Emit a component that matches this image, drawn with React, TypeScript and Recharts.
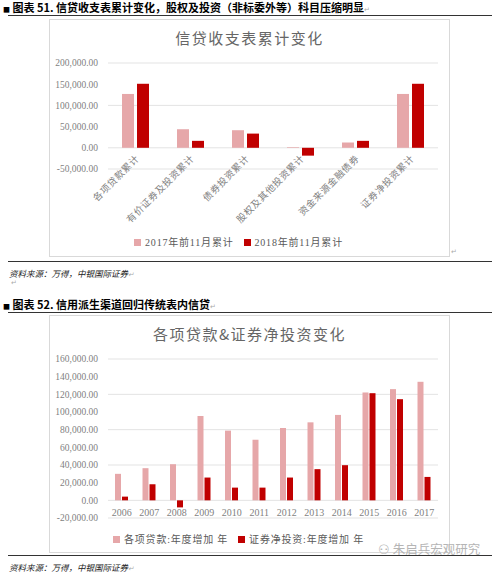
import React from "react";
import { BarChart, Bar, XAxis, YAxis, CartesianGrid, Legend } from "recharts";

// chart 51
const cumCategories = [
  "各项贷款累计",
  "有价证券及投资累计",
  "债券投资累计",
  "股权及其他投资累计",
  "资金来源金融债券",
  "证券净投资累计",
];
const cum2017 = [127000, 43800, 41500, 1500, 12500, 127000];
const cum2018 = [151000, 16400, 33500, -18500, 16400, 151000];
const cumTicks = [-50000, 0, 50000, 100000, 150000, 200000];

// chart 52
const years = ["2006", "2007", "2008", "2009", "2010", "2011", "2012", "2013", "2014", "2015", "2016", "2017"];
const loans = [30000, 36400, 40900, 95500, 78900, 68600, 81900, 88300, 96700, 122100, 125900, 134200];
const securities = [4200, 18200, -8000, 25800, 14400, 14400, 25800, 35300, 39800, 121300, 114500, 26500];
const yearTicks = [-20000, 0, 20000, 40000, 60000, 80000, 100000, 120000, 140000, 160000];

const cumData = cumCategories.map((name, i) => ({ name, a: cum2017[i], b: cum2018[i] }));
const yearData = years.map((name, i) => ({ name, a: loans[i], b: securities[i] }));

const PINK = "#E6A7A9";
const RED = "#C00000";
const GRAY = "#7f7f7f";
const CJK = '"Noto Sans CJK SC", sans-serif';
const SERIF = '"Liberation Serif", "Noto Sans CJK SC", serif';

const W = 401;
const H = 238;

const fmt = (v: number) =>
  v.toLocaleString("en-US", { minimumFractionDigits: 2, maximumFractionDigits: 2 });

// labels sit under the zero line, like Excel's "next to axis"
function RotTick(props: any) {
  const { x, y, payload, shift } = props;
  const ty = y - shift + 9;
  return (
    <text
      x={x + 2}
      y={ty}
      transform={`rotate(-45, ${x + 2}, ${ty})`}
      textAnchor="end"
      dy="0.35em"
      fontSize={9.5}
      letterSpacing={0.6}
      fill={GRAY}
      fontFamily={CJK}
    >
      {payload.value}
    </text>
  );
}

function YearTick(props: any) {
  const { x, y, payload, shift } = props;
  return (
    <text
      x={x}
      y={y - shift + 12}
      textAnchor="middle"
      dy="0.35em"
      fontSize={10}
      fill={GRAY}
      fontFamily={SERIF}
    >
      {payload.value}
    </text>
  );
}

const legendText = (value: string) => (
  <span style={{ color: "#595959", fontFamily: SERIF, fontSize: 10, letterSpacing: 0.8 }}>{value}</span>
);

function Header({ top, text }: { top: number; text: string }) {
  return (
    <>
      <div
        style={{
          position: "absolute",
          left: 3,
          top,
          fontFamily: CJK,
          fontWeight: 700,
          fontSize: 11,
          color: "#000",
          whiteSpace: "nowrap",
          lineHeight: "14px",
        }}
      >
        <span style={{ fontSize: 7, verticalAlign: "middle" }}>■</span> {text}
        <span style={{ color: "#aaa", fontSize: 7, fontWeight: 400 }}>↵</span>
      </div>
      <div style={{ position: "absolute", left: 8, top: top + 15, width: 484, height: 1, background: "#333" }} />
    </>
  );
}

function Source({ top }: { top: number }) {
  return (
    <>
      <div style={{ position: "absolute", left: 8, top: top - 6, width: 484, height: 1, background: "#333" }} />
      <div
        style={{
          position: "absolute",
          left: 9,
          top,
          fontFamily: CJK,
          fontStyle: "italic",
          fontSize: 8.5,
          color: "#222",
          whiteSpace: "nowrap",
          lineHeight: "12px",
        }}
      >
        资料来源：万得，中银国际证券<span style={{ color: "#aaa", fontSize: 7 }}>↵</span>
      </div>
    </>
  );
}

function Box({ top, title, children }: { top: number; title: string; children: React.ReactNode }) {
  return (
    <div style={{ position: "absolute", left: 49, top, width: W, height: H }}>
      <div
        style={{
          position: "absolute",
          left: 0,
          top: 0,
          width: W,
          height: H,
          border: "1px solid #d9d9d9",
          boxSizing: "border-box",
        }}
      />
      <div
        style={{
          position: "absolute",
          left: 0,
          width: W,
          top: 9,
          textAlign: "center",
          fontFamily: CJK,
          fontSize: 15,
          letterSpacing: 1.5,
          color: "#666",
          lineHeight: "20px",
        }}
      >
        {title}
      </div>
      <div style={{ position: "absolute", left: 0, top: 0 }}>{children}</div>
    </div>
  );
}

export default function App() {
  const m1 = { top: 44, right: 12, bottom: 5, left: 0 };
  const xh1 = 63;
  const plotH1 = H - m1.top - m1.bottom - 20 - xh1;
  const shift1 = (plotH1 * (0 - cumTicks[0])) / (cumTicks[cumTicks.length - 1] - cumTicks[0]);

  const m2 = { top: 44, right: 12, bottom: 4, left: 0 };
  const xh2 = 11;
  const plotH2 = H - m2.top - m2.bottom - 20 - xh2;
  const shift2 = (plotH2 * (0 - yearTicks[0])) / (yearTicks[yearTicks.length - 1] - yearTicks[0]);

  return (
    <div style={{ position: "absolute", left: 0, top: 0, width: 500, height: 572, background: "#fff", overflow: "hidden" }}>
      <Header top={0} text="图表 51. 信贷收支表累计变化，股权及投资（非标委外等）科目压缩明显" />

      <Box top={19} title="信贷收支表累计变化">
        <BarChart width={W} height={H} data={cumData} margin={m1} barGap={3}>
          <CartesianGrid vertical={false} stroke="#e3e3e3" />
          <XAxis
            dataKey="name"
            height={xh1}
            axisLine={false}
            tickLine={false}
            tickSize={0}
            tickMargin={0}
            interval={0}
            tick={(p: any) => <RotTick {...p} shift={shift1} />}
          />
          <YAxis
            width={59}
            domain={[cumTicks[0], cumTicks[cumTicks.length - 1]]}
            ticks={cumTicks}
            tickFormatter={fmt}
            axisLine={false}
            tickLine={false}
            tickSize={0}
            tickMargin={10}
            tick={{ fontSize: 9.5, fill: GRAY, fontFamily: SERIF }}
          />
          <Legend
            verticalAlign="bottom"
            height={20}
            iconType="square"
            iconSize={7}
            formatter={legendText}
          />
          <Bar dataKey="a" name="2017年前11月累计" fill={PINK} barSize={12} isAnimationActive={false} />
          <Bar dataKey="b" name="2018年前11月累计" fill={RED} barSize={12} isAnimationActive={false} />
        </BarChart>
      </Box>
      <div style={{ position: "absolute", left: 451, top: 248, color: "#aaa", fontSize: 7 }}>↵</div>

      <Source top={267} />
      <div style={{ position: "absolute", left: 11, top: 279, color: "#aaa", fontSize: 7 }}>↵</div>

      <Header top={297} text="图表 52. 信用派生渠道回归传统表内信贷" />

      <Box top={315} title="各项贷款&证券净投资变化">
        <BarChart width={W} height={H} data={yearData} margin={m2} barGap={1}>
          <CartesianGrid vertical={false} stroke="#e3e3e3" />
          <XAxis
            dataKey="name"
            height={xh2}
            axisLine={false}
            tickLine={false}
            tickSize={0}
            tickMargin={0}
            interval={0}
            tick={(p: any) => <YearTick {...p} shift={shift2} />}
          />
          <YAxis
            width={59}
            domain={[yearTicks[0], yearTicks[yearTicks.length - 1]]}
            ticks={yearTicks}
            tickFormatter={fmt}
            axisLine={false}
            tickLine={false}
            tickSize={0}
            tickMargin={10}
            tick={{ fontSize: 9.5, fill: GRAY, fontFamily: SERIF }}
          />
          <Legend
            verticalAlign="bottom"
            height={20}
            iconType="square"
            iconSize={7}
            formatter={legendText}
          />
          <Bar dataKey="a" name="各项贷款:年度增加 年" fill={PINK} barSize={6} isAnimationActive={false} />
          <Bar dataKey="b" name="证券净投资:年度增加 年" fill={RED} barSize={6} isAnimationActive={false} />
        </BarChart>
      </Box>

      <div
        style={{
          position: "absolute",
          left: 378,
          top: 541,
          fontFamily: CJK,
          fontSize: 12.5,
          color: "#b5b5b5",
          whiteSpace: "nowrap",
          lineHeight: "16px",
        }}
      >
        ⚇ 朱启兵宏观研究
      </div>

      <Source top={561} />
    </div>
  );
}
